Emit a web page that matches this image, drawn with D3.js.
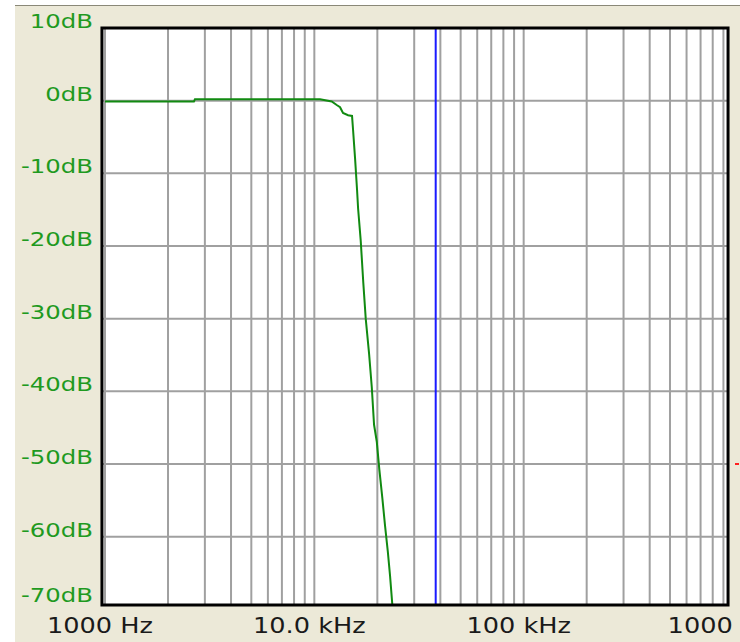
<!DOCTYPE html>
<html>
<head>
<meta charset="utf-8">
<script src="https://cdn.jsdelivr.net/npm/d3@7"></script>
<style>
	body { margin: 0; background: #ffffff; }
	svg { display: block; }
</style>
</head>
<body>
<script>
// frequency response (Hz, dB)
var freqs = [1000, 2660, 2690, 10650, 12110, 12790, 13270, 13710, 14490, 15140, 15310, 15650, 16000, 16180,
	16660, 17140, 17600, 18260, 18810, 19290, 19870, 20450, 21130, 21770, 22430, 23000, 23590, 24000];
var gains = [-0.1, -0.1, 0.2, 0.2, -0.1, -0.6, -0.9, -1.7, -2.0, -2.1, -4.0, -7.9, -12.3, -14.8,
	-19.3, -25.1, -30.0, -34.8, -39.4, -44.6, -46.9, -50.8, -54.7, -58.5, -62.0, -65.4, -69.4, -72];

var dbTicks = [10, 0, -10, -20, -30, -40, -50, -60, -70];
var dbLabels = ["10dB", "0dB", "-10dB", "-20dB", "-30dB", "-40dB", "-50dB", "-60dB", "-70dB"];
var decadeTicks = [1000, 10000, 100000, 1000000];
var decadeLabels = ["1000 Hz", "10.0 kHz", "100 kHz", "1000 kHz"];
var markerFreq = 38000;
var fMin = 967, fMax = 947000;
var dbMin = -69.4, dbMax = 10;

var svg = d3.select("body").append("svg").attr("width", 740).attr("height", 642);

var x = d3.scaleLog().domain([1000, 1000000]).range([105, 733]);
var y = d3.scaleLinear().domain([dbMax, dbMin]).range([28, 605]);

var plotLeft = x(fMin), plotRight = x(fMax), plotTop = y(dbMax), plotBottom = y(dbMin);

// beige panel
svg.append("rect").attr("x", 15).attr("y", 5).attr("width", 725).attr("height", 637).attr("fill", "#ece9d8");
svg.append("line").attr("x1", 15).attr("x2", 740).attr("y1", 5.5).attr("y2", 5.5)
	.attr("stroke", "#8a8878").attr("stroke-width", 1);

svg.append("rect").attr("x", plotLeft).attr("y", plotTop)
	.attr("width", plotRight - plotLeft).attr("height", plotBottom - plotTop)
	.attr("fill", "#ffffff");

var g = svg.append("g");

// vertical grid, 1..9 per decade
var gridFreqs = [];
for (var p = 3; p <= 5; p++) {
	for (var m = 1; m <= 9; m++) {
		var f = m * Math.pow(10, p);
		if (f > fMin && f < fMax) gridFreqs.push(f);
	}
}
g.selectAll(".vgrid").data(gridFreqs)
	.enter().append("line")
	.attr("class", "vgrid")
	.attr("x1", function(d) { return x(d); })
	.attr("x2", function(d) { return x(d); })
	.attr("y1", plotTop).attr("y2", plotBottom)
	.attr("stroke", "#a0a0a0").attr("stroke-width", 2);

g.selectAll(".hgrid").data(dbTicks.filter(function(d) { return d < dbMax && d > dbMin; }))
	.enter().append("line")
	.attr("class", "hgrid")
	.attr("x1", plotLeft).attr("x2", plotRight)
	.attr("y1", function(d) { return y(d); })
	.attr("y2", function(d) { return y(d); })
	.attr("stroke", "#a0a0a0").attr("stroke-width", 2);

// blue marker line
g.append("line")
	.attr("x1", x(markerFreq)).attr("x2", x(markerFreq))
	.attr("y1", plotTop).attr("y2", plotBottom)
	.attr("stroke", "#1a1aff").attr("stroke-width", 2);

svg.append("clipPath").attr("id", "plotClip")
	.append("rect").attr("x", plotLeft).attr("y", plotTop)
	.attr("width", plotRight - plotLeft).attr("height", plotBottom - plotTop);

var points = freqs.map(function(f, i) { return [f, gains[i]]; });
var line = d3.line()
	.x(function(d) { return x(d[0]); })
	.y(function(d) { return y(d[1]); });

g.append("path")
	.datum(points)
	.attr("clip-path", "url(#plotClip)")
	.attr("d", line)
	.attr("fill", "none")
	.attr("stroke", "#118a11")
	.attr("stroke-width", 2);

// frame
svg.append("rect").attr("x", plotLeft).attr("y", plotTop)
	.attr("width", plotRight - plotLeft).attr("height", plotBottom - plotTop)
	.attr("fill", "none").attr("stroke", "#000000").attr("stroke-width", 3);

// red marker at the right edge
svg.append("line").attr("x1", 735).attr("x2", 739).attr("y1", y(-50)).attr("y2", y(-50))
	.attr("stroke", "#ff2020").attr("stroke-width", 2);

// y labels
svg.selectAll(".yText").data(dbTicks)
	.enter().append("text")
	.attr("class", "yText")
	.attr("transform", function(d) {
		return "translate(93," + Math.min(y(d), plotBottom - 3) + ") scale(1.22,1)";
	})
	.attr("text-anchor", "end")
	.attr("font-family", "DejaVu Sans, sans-serif")
	.attr("font-size", 20)
	.attr("fill", "#1f9a1f")
	.text(function(d, i) { return dbLabels[i]; });

// x labels
svg.selectAll(".xText").data(decadeTicks)
	.enter().append("text")
	.attr("class", "xText")
	.attr("transform", function(d) { return "translate(" + (x(d) - 5) + ",633) scale(1.22,1)"; })
	.attr("text-anchor", "middle")
	.attr("font-family", "DejaVu Sans, sans-serif")
	.attr("font-size", 21)
	.attr("fill", "#1a1a1a")
	.text(function(d, i) { return decadeLabels[i]; });
</script>
</body>
</html>
